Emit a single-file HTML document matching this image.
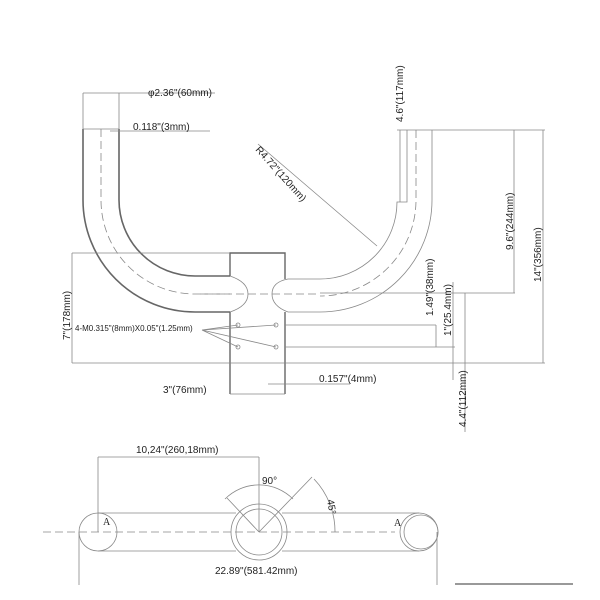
<!DOCTYPE html>
<html><head><meta charset="utf-8"><style>
html,body{margin:0;padding:0;background:#fff;}
svg{display:block;}
text{font-family:"Liberation Sans",sans-serif;font-size:10px;fill:#222;}
</style></head><body>
<svg width="600" height="600" viewBox="0 0 600 600" xmlns="http://www.w3.org/2000/svg">
<g fill="none" stroke="#888" stroke-width="0.8">
<!-- left tube -->
<path d="M83 129 V200 A112 112 0 0 0 195 312 H230" stroke="#666" stroke-width="1.6"/>
<path d="M119 129 V200 A76 76 0 0 0 195 276 H230" stroke="#666" stroke-width="1.6"/>
<path d="M101 129 V200 A94 94 0 0 0 195 294 H230" stroke-dasharray="8 4"/>
<path d="M230 276 Q248 282 248 294 Q248 306 230 312" />
<!-- right tube -->
<path d="M432 130 V200 A112 112 0 0 1 320 312 H288"/>
<path d="M407 130 V202 H397 A77 77 0 0 1 320 279 H288"/>
<path d="M416 130 V200 A96 96 0 0 1 320 296" stroke-dasharray="8 4"/>
<path d="M288 279 Q272 282 272 294 Q272 306 288 312"/>
<line x1="83" y1="129" x2="119" y2="129"/>
<line x1="397" y1="130" x2="545" y2="130"/>
<!-- hub -->
<path d="M230 276 V253 H285 V279 M230 312 V394 M285 312 V394" stroke="#666" stroke-width="1.4"/>
<line x1="200" y1="294" x2="320" y2="294" stroke-dasharray="8 4"/>
<circle cx="238" cy="325" r="2"/><circle cx="238" cy="347" r="2"/>
<circle cx="276" cy="325" r="2"/><circle cx="276" cy="347" r="2"/>
<path d="M202 330 L238 325 M202 330 L238 347 M202 330 L276 325 M202 330 L276 347"/>
<!-- dims left -->
<path d="M72 253 H230 M72 253 V363 M72 363 H285"/>
<path d="M83 93 V129 M119 93 V129 M83 93 H215"/>
<path d="M110 131 H210"/>
<path d="M230 394 H285"/>
<path d="M268 384 H350"/>
<path d="M258 144 L377 246"/>
<!-- dims right -->
<path d="M400 130 V202"/>
<path d="M514 130 V293 M543 130 V363"/>
<path d="M320 293 H515 M285 325 H436 M285 347 H455 M285 363 H545"/>
<path d="M436 325 V347 M453 282 V380 M465 293 V432"/>
<!-- bottom view -->
<line x1="43" y1="532" x2="395" y2="532" stroke-dasharray="8 4"/>
<circle cx="98" cy="532" r="19"/>
<circle cx="259" cy="532" r="28"/><circle cx="259" cy="532" r="23"/>
<circle cx="419" cy="532" r="19"/><circle cx="421" cy="532" r="17"/>
<path d="M98 513 H236 M98 551 H236 M282 513 H419 M282 551 H419"/>
<path d="M98 457 H259 M98 457 V532 M259 457 V532"/>
<path d="M259 532 L227 498 M259 532 L312 477"/>
<path d="M225 499 A48 48 0 0 1 293 499"/>
<path d="M314 479 A76 76 0 0 1 335 532"/>
<path d="M79 532 V585 M437 532 V585"/>
</g>
<line x1="455" y1="584" x2="573" y2="584" stroke="#333" stroke-width="1"/>
<text x="148" y="96">φ2.36"(60mm)</text>
<text x="133" y="130">0.118"(3mm)</text>
<text transform="translate(255,150) rotate(48)">R4.72"(120mm)</text>
<text transform="translate(403,122) rotate(-90)">4.6"(117mm)</text>
<text transform="translate(513,250) rotate(-90)">9.6"(244mm)</text>
<text transform="translate(541,282) rotate(-90)">14"(356mm)</text>
<text transform="translate(433,316) rotate(-90)">1.49"(38mm)</text>
<text transform="translate(451,336) rotate(-90)">1"(25.4mm)</text>
<text transform="translate(466,427) rotate(-90)">4.4"(112mm)</text>
<text transform="translate(70,340) rotate(-90)">7"(178mm)</text>
<text x="75" y="331" style="font-size:8px">4-M0.315"(8mm)X0.05"(1.25mm)</text>
<text x="163" y="393">3"(76mm)</text>
<text x="319" y="382">0.157"(4mm)</text>
<text x="136" y="453">10,24"(260,18mm)</text>
<text x="262" y="484">90°</text>
<text transform="translate(327,500) rotate(80)">45°</text>
<text x="103" y="525" style="font-family:'Liberation Serif',serif">A</text>
<text x="394" y="526" style="font-family:'Liberation Serif',serif">A</text>
<text x="215" y="574">22.89"(581.42mm)</text>
</svg>
</body></html>
